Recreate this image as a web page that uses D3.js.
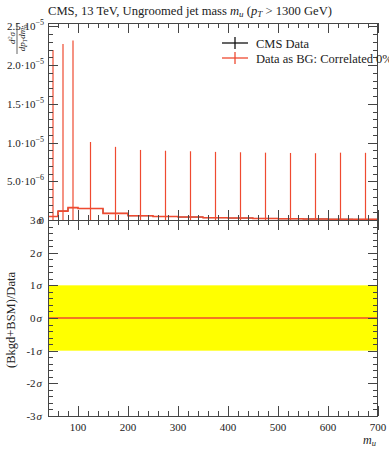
<!DOCTYPE html>
<html><head><meta charset="utf-8">
<script src="https://cdn.jsdelivr.net/npm/d3@7"></script>
<style>
html,body{margin:0;padding:0;background:#fff;}
svg text{font-family:"Liberation Serif","DejaVu Serif",serif;fill:#222;}
</style></head>
<body><svg id="c" width="389" height="450"></svg>
<script>
// ---- data ----
const binEdges = [40,60,80,100,150,200,250,300,350,400,450,500,550,600,650,700];
const cmsData  = [0.45e-6,1.15e-6,1.6e-6,1.48e-6,0.85e-6,0.55e-6,0.45e-6,0.38e-6,0.3e-6,0.25e-6,0.2e-6,0.16e-6,0.13e-6,0.1e-6,0.08e-6];
const bgData   = [0.45e-6,1.15e-6,1.6e-6,1.48e-6,0.85e-6,0.55e-6,0.45e-6,0.38e-6,0.3e-6,0.25e-6,0.2e-6,0.16e-6,0.13e-6,0.1e-6,0.08e-6];
const bgErr    = [2.15e-5,2.16e-5,2.16e-5,0.86e-5,0.86e-5,0.85e-5,0.85e-5,0.85e-5,0.85e-5,0.85e-5,0.85e-5,0.85e-5,0.85e-5,0.86e-5,0.86e-5];
const ratioSigma = [0,0,0,0,0,0,0,0,0,0,0,0,0,0,0];
const xTicks = [100,200,300,400,500,600,700];
const yTicksUpper = [0,5e-6,1e-5,1.5e-5,2e-5,2.5e-5];
const yTickMant = ["0","5.0","1.0","1.5","2.0","2.5"];
const yTickExp  = ["","−6","−5","−5","−5","−5"];
const sigmaTicks = [-3,-2,-1,0,1,2,3];
const sigmaLabels = ["-3","-2","-1","0","1","2","3"];
const legendLabels = ["CMS Data","Data as BG: Correlated 0%"];
const colors = {cms:"#111", bg:"#ef4a30", band:"#ffff00"};

// ---- layout ----
const L=48, R=378, T1=23, B1=220, T2=220, B2=416;
const svg = d3.select("#c");
const x = d3.scaleLinear().domain([40,700]).range([L,R]);
const y1 = d3.scaleLinear().domain([0,2.545e-5]).range([B1,T1]).clamp(true);
const y2 = d3.scaleLinear().domain([-3,3]).range([B2,T2]).clamp(true);

// band
svg.append("rect").attr("x",L).attr("width",R-L)
  .attr("y",y2(1)).attr("height",y2(-1)-y2(1)).attr("fill",colors.band);

// step path helper
function stepPts(vals, ys){
  const pts=[];
  vals.forEach((v,i)=>{pts.push([x(binEdges[i]),ys(v)]);pts.push([x(binEdges[i+1]),ys(v)]);});
  return pts;
}
const line = d3.line();
const gu = svg.append("g");
gu.append("path").attr("d",line(stepPts(cmsData,y1))).attr("fill","none").attr("stroke",colors.cms).attr("stroke-width",0.8);
gu.append("path").attr("d",line(stepPts(bgData,y1))).attr("fill","none").attr("stroke",colors.bg).attr("stroke-width",1.6);
gu.selectAll("line.err").data(bgData).join("line").attr("class","err")
  .attr("x1",(v,i)=>x((binEdges[i]+binEdges[i+1])/2))
  .attr("x2",(v,i)=>x((binEdges[i]+binEdges[i+1])/2))
  .attr("y1",(v,i)=>y1(v+bgErr[i]))
  .attr("y2",(v,i)=>y1(v-bgErr[i]))
  .attr("stroke",colors.bg).attr("stroke-width",1.2);
svg.append("path").attr("d",line(stepPts(ratioSigma,y2))).attr("fill","none").attr("stroke",colors.bg).attr("stroke-width",1.3);

// frames
const fr = (t,b)=>svg.append("rect").attr("x",L+0.5).attr("y",t+0.5).attr("width",R-L-1).attr("height",b-t-1)
  .attr("fill","none").attr("stroke","#444").attr("stroke-width",1);
fr(T1,B1+1); fr(T2,B2+1);

// ticks
const tk = svg.append("g").attr("stroke","#444").attr("stroke-width",1);
function xt(v,len,top,bot){
  const px=Math.round(x(v))+0.5;
  tk.append("line").attr("x1",px).attr("x2",px).attr("y1",top).attr("y2",top+len);
  tk.append("line").attr("x1",px).attr("x2",px).attr("y1",bot).attr("y2",bot-len);
}
d3.range(40,701,20).forEach(v=>{
  const maj = v%100===0;
  const len = maj?10:5;
  xt(v,len,T1,B1); xt(v,len,T2,B2);
});
function yt(py,len){
  py=Math.round(py)+0.5;
  tk.append("line").attr("x1",L).attr("x2",L+len).attr("y1",py).attr("y2",py);
  tk.append("line").attr("x1",R).attr("x2",R-len).attr("y1",py).attr("y2",py);
}
d3.range(0,26).forEach(i=>{const v=i*1e-6; yt(y1(v), i%5===0?10:5);});
d3.range(-15,16).forEach(i=>{const v=i*0.2; yt(y2(v), i%5===0?10:5);});

// x tick labels
xTicks.forEach(v=>{
  svg.append("text").attr("x",x(v)).attr("y",431).attr("text-anchor","middle").attr("font-size",11).text(v);
});
// upper y tick labels
yTicksUpper.forEach((v,i)=>{
  const t=svg.append("text").attr("x",44).attr("y",y1(v)+4).attr("text-anchor","end").attr("font-size",11);
  if(yTickExp[i]===""){ t.text(yTickMant[i]); }
  else{
    t.append("tspan").text(yTickMant[i]+"·10");
    t.append("tspan").attr("dy",-5).attr("font-size",8).text(yTickExp[i]);
  }
});
// sigma labels
sigmaTicks.forEach((v,i)=>{
  const t=svg.append("text").attr("x",42).attr("y",y2(v)+4).attr("text-anchor","end").attr("font-size",11);
  t.append("tspan").text(sigmaLabels[i]);
  t.append("tspan").attr("font-style","italic").attr("dx",1).text("σ");
});

// title
const ti = svg.append("text").attr("x",48).attr("y",15).attr("font-size",12.6);
ti.append("tspan").text("CMS, 13 TeV, Ungroomed jet mass ");
ti.append("tspan").attr("font-style","italic").text("m");
ti.append("tspan").attr("font-style","italic").attr("font-size",9).attr("dy",2).text("u");
ti.append("tspan").attr("dy",-2).text(" (");
ti.append("tspan").attr("font-style","italic").text("p");
ti.append("tspan").attr("font-style","italic").attr("font-size",9).attr("dy",2).text("T");
ti.append("tspan").attr("dy",-2).text(" > 1300 GeV)");

// legend
legendLabels.forEach((lab,i)=>{
  const yy = 43 + i*15;
  const col = i===0?colors.cms:colors.bg;
  svg.append("line").attr("x1",222).attr("x2",248).attr("y1",yy).attr("y2",yy).attr("stroke",col).attr("stroke-width",1.3);
  svg.append("line").attr("x1",235).attr("x2",235).attr("y1",yy-6).attr("y2",yy+6).attr("stroke",col).attr("stroke-width",1.3);
  svg.append("text").attr("x",256).attr("y",yy+4.5).attr("font-size",12.5).text(lab);
});

// x label
const xl = svg.append("text").attr("x",376).attr("y",444).attr("text-anchor","end").attr("font-size",12);
xl.append("tspan").attr("font-style","italic").text("m");
xl.append("tspan").attr("font-style","italic").attr("font-size",8.5).attr("dy",2).text("u");

// lower y label
svg.append("text").attr("transform","translate(15,320) rotate(-90)").attr("text-anchor","middle")
  .attr("font-size",12.5).text("(Bkgd+BSM)/Data");

// upper y label (fraction)
const gf = svg.append("g").attr("transform","translate(17,23) rotate(-90)");
const num = gf.append("text").attr("x",-15).attr("y",-2).attr("text-anchor","middle").attr("font-size",9).attr("font-style","italic");
num.append("tspan").text("d");
num.append("tspan").attr("font-size",6).attr("dy",-3).text("2");
num.append("tspan").attr("dy",3).text("σ");
gf.append("line").attr("x1",-31).attr("x2",0).attr("y1",0).attr("y2",0).attr("stroke","#222").attr("stroke-width",0.7);
const den = gf.append("text").attr("x",-15).attr("y",8).attr("text-anchor","middle").attr("font-size",9).attr("font-style","italic");
den.append("tspan").text("dp");
den.append("tspan").attr("font-size",6).attr("dy",2).text("T");
den.append("tspan").attr("dy",-2).text("dm");
den.append("tspan").attr("font-size",6).attr("dy",2).text("u");
</script></body></html>
